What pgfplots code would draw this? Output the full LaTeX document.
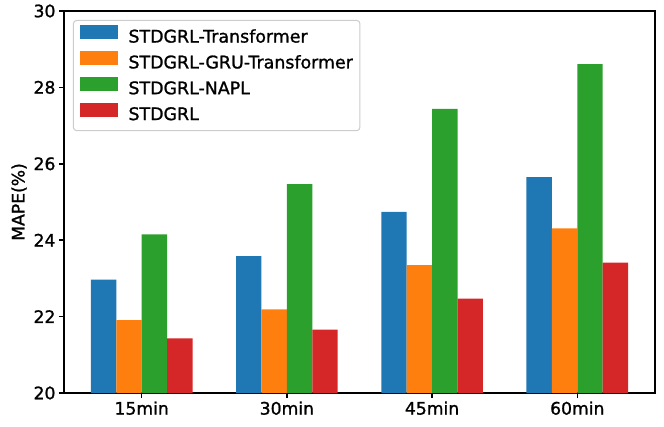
\documentclass[border=0pt]{standalone}
\usepackage{fontspec}
\setmainfont{DejaVu Sans}[FakeBold=1.2]
\usepackage{pgfplots}
\pgfplotsset{compat=1.18}
\definecolor{tabblue}{HTML}{1F77B4}
\definecolor{taborange}{HTML}{FF7F0E}
\definecolor{tabgreen}{HTML}{2CA02C}
\definecolor{tabred}{HTML}{D62728}
\begin{document}
\begin{tikzpicture}
\begin{axis}[
  scale only axis, width=591pt, height=382pt,
  xmin=-0.535, xmax=3.535, ymin=20, ymax=30,
  bar width=0.175,
  xtick={0,1,2,3}, xticklabels={15min,30min,45min,60min},
  ytick={20,22,24,26,28,30},
  tick align=outside, tick pos=left, major tick length=5pt,
  axis line style={line width=2.2pt},
  every tick/.style={line width=1.5pt, black},
  ticklabel style={font=\fontsize{17.2}{20}\selectfont},
  /pgf/number format/assume math mode=true,
  ylabel={MAPE(\%)},
  ylabel style={font=\fontsize{17.2}{20}\selectfont},
  legend cell align=left,
  legend image code/.code={\fill[#1, sharp corners] (0pt,-1pt) rectangle (37pt,12.5pt);},
  legend style={at={(0,1)}, anchor=north west, xshift=9pt, yshift=-9pt,
    font=\fontsize{17.4}{20}\selectfont, draw=black!20, line width=1pt, rounded corners=3pt,
    inner xsep=7pt, inner ysep=5pt, row sep=3.3pt,
    nodes={inner xsep=0pt, inner ysep=2pt, text height=12.6pt, text depth=3.5pt},
    /tikz/every odd column/.append style={column sep=11pt}},
]
\addplot[ybar, fill=tabblue, draw=none, bar shift=-0.2625] coordinates {(0,22.97) (1,23.58) (2,24.74) (3,25.65)};
\addlegendentry{STDGRL-Transformer}
\addplot[ybar, fill=taborange, draw=none, bar shift=-0.0875] coordinates {(0,21.91) (1,22.19) (2,23.35) (3,24.31)};
\addlegendentry{STDGRL-GRU-Transformer}
\addplot[ybar, fill=tabgreen, draw=none, bar shift=0.0875] coordinates {(0,24.15) (1,25.47) (2,27.44) (3,28.61)};
\addlegendentry{STDGRL-NAPL}
\addplot[ybar, fill=tabred, draw=none, bar shift=0.2625] coordinates {(0,21.43) (1,21.66) (2,22.47) (3,23.41)};
\addlegendentry{STDGRL}
\end{axis}
\path ([shift={(-64pt,-33pt)}]current axis.south west) rectangle ([shift={(9pt,11pt)}]current axis.north east);
\end{tikzpicture}
\end{document}
